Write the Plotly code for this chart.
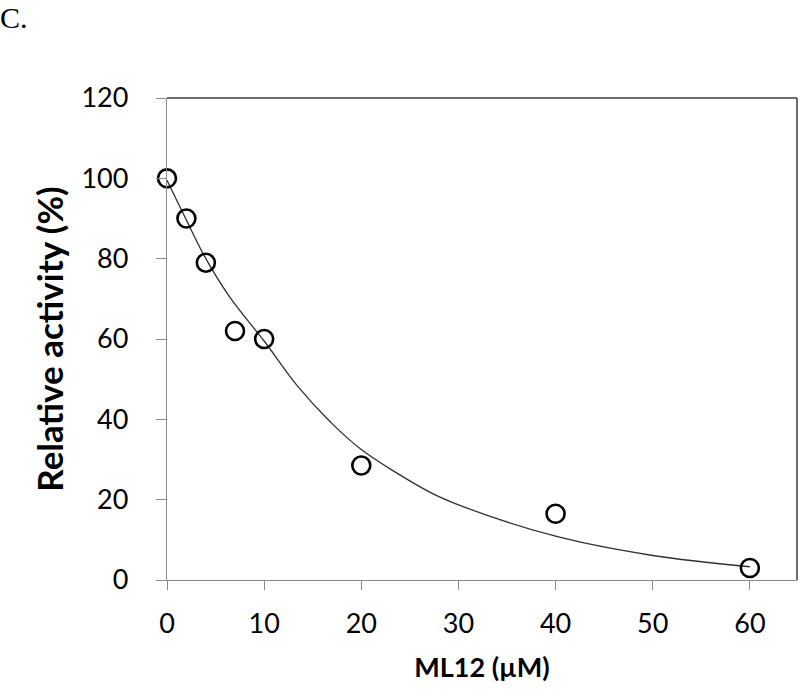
"""Relative activity vs ML12 concentration (panel C), open circles + fitted decay curve."""

import plotly.graph_objects as go

conc_um = [0, 2, 4, 7, 10, 20, 40, 60]
activity_pct = [100, 90, 79, 62, 60, 28.5, 16.5, 3]

# Fitted curve, sampled off the drawn line
fit_x = [0, 2, 4, 6.5, 10, 13.4, 16.8, 20, 27.1, 30, 40, 50, 60]
fit_y = [99.5, 89.6, 80.0, 70.3, 59.5, 48.4, 39.4, 32.5, 21.8, 18.7, 10.9, 6.1, 3.3]

x_ticks = [0, 10, 20, 30, 40, 50, 60]
y_ticks = [0, 20, 40, 60, 80, 100, 120]

_AXIS = "#8a8a8a"    # light grey left/bottom axis lines + ticks
_FRAME = "#3c3c3c"   # darker top/right border
_FONT = "Lato, 'Open Sans', sans-serif"

fig = go.Figure()

fig.add_trace(go.Scatter(
    x=fit_x, y=fit_y, mode="lines",
    line=dict(color="#303030", width=1.3, shape="spline", smoothing=1.0),
    showlegend=False, hoverinfo="skip",
))

fig.add_trace(go.Scatter(
    x=conc_um, y=activity_pct, mode="markers",
    marker=dict(symbol="circle-open", size=18, color="#000000",
                line=dict(width=2.6, color="#000000")),
    cliponaxis=False, showlegend=False,
))

fig.update_layout(
    width=800, height=690,
    paper_bgcolor="white", plot_bgcolor="white",
    margin=dict(l=167, r=3, t=98, b=110, autoexpand=False),
    font=dict(family=_FONT, color="#000000", size=27),
    title=dict(text="C.", x=0, xref="container", xanchor="left",
               y=0.99, yref="container", yanchor="top",
               font=dict(family="'Liberation Serif', 'Times New Roman', serif",
                         size=30, color="#000000")),
    shapes=[
        # top and right border of the plot box (darker than the axes)
        dict(type="line", xref="paper", yref="paper", x0=0, x1=1, y0=1, y1=1,
             line=dict(color=_FRAME, width=1.5)),
        dict(type="line", xref="paper", yref="paper", x0=1, x1=1, y0=0, y1=1,
             line=dict(color=_FRAME, width=1.5)),
    ],
)

fig.update_xaxes(
    range=[0, 64.85], tickvals=x_ticks, ticktext=[str(v) for v in x_ticks],
    showgrid=False, zeroline=False,
    showline=True, linecolor=_AXIS, linewidth=1.3,
    ticks="outside", ticklen=9, tickwidth=1.3, tickcolor=_AXIS,
    ticklabelstandoff=10,
    tickfont=dict(size=27),
    title=dict(text="<b>ML12 (µM)</b>", font=dict(size=27), standoff=20),
)
fig.update_yaxes(
    range=[0, 120], tickvals=y_ticks, ticktext=[str(v) for v in y_ticks],
    showgrid=False, zeroline=False,
    showline=True, linecolor=_AXIS, linewidth=1.3,
    ticks="outside", ticklen=10, tickwidth=1.3, tickcolor=_AXIS,
    ticklabelstandoff=22,
    tickfont=dict(size=27),
    title=dict(text="<b>Relative activity (%)</b>", font=dict(size=35), standoff=7),
)

# The page body has a default 8px margin; drop it so the figure sits at (0, 0).
fig.write_html("out.html", config={"displayModeBar": False},
               post_script="document.body.style.margin='0';")
